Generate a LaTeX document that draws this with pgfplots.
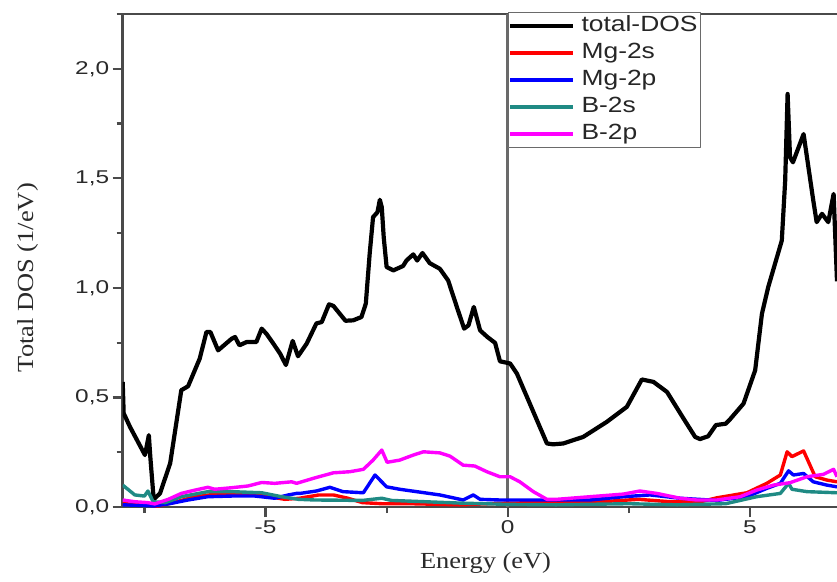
\documentclass[border=0pt]{standalone}
\usepackage{pgfplots}
\pgfplotsset{compat=1.18}
\usepackage{fontspec}
\setmainfont{Liberation Serif}
\newfontfamily\tickfont[FakeStretch=1.32]{Liberation Sans}
\newfontfamily\legfont[FakeStretch=1.2]{Liberation Sans}
\newfontfamily\labfont[FakeStretch=1.15]{Liberation Serif}
\definecolor{axgray}{HTML}{4A4A4A}
\definecolor{zgray}{HTML}{6A6A6A}
\definecolor{labgray}{HTML}{2A2A2A}
\definecolor{tealc}{HTML}{1F8A84}
\definecolor{magc}{RGB}{255,0,255}
\definecolor{redc}{RGB}{255,0,0}
\definecolor{bluec}{RGB}{0,0,255}
\begin{document}
\begin{tikzpicture}
\begin{axis}[name=ax, scale only axis, width=714.3pt, height=493pt,
  xmin=-7.95, xmax=6.80, ymin=0, ymax=2.25,
  axis x line=box, axis y line*=left,
  xtick pos=bottom, ytick pos=left,
  tick align=outside,
  xtick={-5,0,5}, minor xtick={-7.5,-2.5,2.5},
  ytick={0,0.5,1,1.5,2}, minor ytick={0.25,0.75,1.25,1.75,2.25},
  major tick length=10pt, minor tick length=6pt,
  axis line style={line width=2.8pt, color=axgray},
  every tick/.style={line width=2.2pt, color=axgray},
  every minor tick/.style={line width=2.2pt, color=axgray},
  every tick label/.append style={font=\tickfont\fontsize{18.5}{18.5}\selectfont, text=labgray},
  /pgf/number format/assume math mode=true,
  yticklabel style={/pgf/number format/fixed, /pgf/number format/fixed zerofill, /pgf/number format/precision=1, /pgf/number format/use comma},
  ylabel={Total DOS (1/eV)}, xlabel={Energy (eV)},
  every axis y label/.style={at={(rel axis cs:0,0.465)}, xshift=-95pt, rotate=90, anchor=center, font=\labfont\fontsize{23}{23}\selectfont, text=labgray},
  every axis x label/.style={at={(rel axis cs:0.508,0)}, yshift=-56pt, anchor=center, font=\labfont\fontsize{23}{23}\selectfont, text=labgray},
  legend cell align=left,
  legend image code/.code={\draw[#1] (0pt,0pt) -- (63pt,0pt);},
  legend style={at={(axis cs:0,2.25)}, anchor=north west, yshift=2pt, draw=zgray, line width=1.4pt, fill=white, inner sep=0pt, font=\legfont\fontsize{22}{22}\selectfont, text=black!85, nodes={text height=15.5pt, text depth=5.5pt, inner sep=3pt}, column sep=3pt},
  line join=round,
]
\addplot[forget plot, color=zgray, line width=3pt] coordinates {(0,0) (0,2.25)};
\addplot[black, line width=4.2pt] coordinates {
(-7.95,0.571) (-7.93,0.428) (-7.80,0.366) (-7.49,0.237) (-7.41,0.328) (-7.38,0.229)
(-7.31,0.035) (-7.18,0.062) (-6.97,0.199) (-6.74,0.533) (-6.60,0.551) (-6.36,0.677)
(-6.22,0.799) (-6.14,0.799) (-5.98,0.715) (-5.70,0.768) (-5.63,0.776) (-5.54,0.738)
(-5.39,0.753) (-5.19,0.753) (-5.08,0.814) (-4.98,0.790) (-4.84,0.746) (-4.70,0.700)
(-4.58,0.648) (-4.44,0.758) (-4.33,0.688) (-4.15,0.746) (-3.95,0.838) (-3.84,0.844)
(-3.69,0.925) (-3.60,0.918) (-3.35,0.850) (-3.19,0.852) (-3.02,0.867) (-2.93,0.928)
(-2.85,1.156) (-2.78,1.323) (-2.69,1.345) (-2.64,1.402) (-2.60,1.368) (-2.56,1.231)
(-2.50,1.095) (-2.36,1.080) (-2.16,1.100) (-2.09,1.125) (-1.95,1.153) (-1.87,1.125)
(-1.76,1.159) (-1.61,1.113) (-1.40,1.087) (-1.23,1.034) (-1.05,0.913) (-0.90,0.814)
(-0.81,0.829) (-0.70,0.913) (-0.57,0.806) (-0.42,0.776) (-0.26,0.749) (-0.16,0.665)
(0.05,0.655) (0.19,0.609) (0.81,0.290) (0.94,0.286) (1.15,0.290) (1.56,0.320)
(2.05,0.389) (2.46,0.457) (2.77,0.582) (3.01,0.571) (3.29,0.525) (3.63,0.404)
(3.87,0.320) (3.97,0.310) (4.14,0.323) (4.30,0.374) (4.50,0.380) (4.59,0.400)
(4.87,0.472) (5.11,0.624) (5.25,0.882) (5.38,1.004) (5.66,1.216) (5.73,1.490)
(5.78,1.885) (5.83,1.596) (5.89,1.573) (6.11,1.702) (6.31,1.399) (6.38,1.300)
(6.49,1.338) (6.62,1.300) (6.73,1.429) (6.80,1.030)
};
\addlegendentry{total-DOS}
\addplot[redc, line width=3.4pt] coordinates {
(-7.95,0.015) (-7.40,0.010) (-7.25,0.003) (-6.90,0.020) (-6.50,0.045) (-6.00,0.060)
(-5.50,0.060) (-5.00,0.050) (-4.60,0.035) (-4.30,0.040) (-3.90,0.055) (-3.60,0.055)
(-3.30,0.040) (-3.00,0.020) (-2.60,0.015) (-2.00,0.015) (-1.00,0.010) (0.00,0.018)
(1.00,0.020) (2.00,0.025) (2.70,0.035) (3.30,0.025) (4.00,0.025) (4.32,0.042)
(4.94,0.065) (5.35,0.108) (5.63,0.146) (5.77,0.252) (5.87,0.230) (6.11,0.256)
(6.35,0.138) (6.59,0.123) (6.80,0.115)
};
\addlegendentry{Mg-2s}
\addplot[bluec, line width=3.4pt] coordinates {
(-7.95,0.010) (-7.29,0.005) (-7.01,0.014) (-6.60,0.032) (-6.19,0.047) (-5.70,0.050)
(-5.22,0.050) (-4.81,0.040) (-4.53,0.055) (-4.36,0.062) (-4.29,0.062) (-3.95,0.073)
(-3.67,0.090) (-3.40,0.070) (-2.98,0.065) (-2.74,0.146) (-2.50,0.092) (-2.23,0.081)
(-1.88,0.070) (-1.40,0.055) (-0.92,0.032) (-0.71,0.055) (-0.57,0.035) (-0.16,0.032)
(0.87,0.032) (1.70,0.032) (2.39,0.047) (2.94,0.055) (3.56,0.040) (4.32,0.030)
(4.94,0.047) (5.35,0.085) (5.63,0.108) (5.80,0.165) (5.90,0.146) (6.11,0.153)
(6.31,0.115) (6.59,0.100) (6.80,0.092)
};
\addlegendentry{Mg-2p}
\addplot[tealc, line width=3.4pt] coordinates {
(-7.95,0.100) (-7.70,0.055) (-7.50,0.050) (-7.43,0.073) (-7.32,0.024) (-7.07,0.020)
(-6.74,0.047) (-6.19,0.070) (-5.70,0.070) (-5.08,0.065) (-4.67,0.047) (-4.32,0.035)
(-3.98,0.032) (-3.00,0.030) (-2.60,0.040) (-2.40,0.030) (-1.00,0.018) (0.00,0.012)
(1.00,0.010) (2.50,0.015) (3.50,0.010) (4.50,0.015) (4.80,0.030) (5.14,0.047)
(5.63,0.062) (5.80,0.108) (5.87,0.081) (6.18,0.070) (6.80,0.065)
};
\addlegendentry{B-2s}
\addplot[magc, line width=3.4pt] coordinates {
(-7.95,0.032) (-7.70,0.024) (-7.43,0.020) (-7.29,0.014) (-7.01,0.035) (-6.74,0.062)
(-6.46,0.077) (-6.19,0.090) (-6.05,0.081) (-5.70,0.088) (-5.36,0.096) (-5.08,0.112)
(-4.81,0.108) (-4.46,0.115) (-4.36,0.108) (-3.98,0.133) (-3.60,0.156) (-3.26,0.161)
(-2.98,0.172) (-2.78,0.214) (-2.60,0.260) (-2.49,0.204) (-2.23,0.214) (-1.95,0.237)
(-1.74,0.252) (-1.40,0.247) (-1.19,0.232) (-0.92,0.191) (-0.68,0.187) (-0.43,0.161)
(-0.16,0.138) (0.05,0.138) (0.25,0.115) (0.53,0.070) (0.81,0.035) (1.01,0.035)
(1.70,0.047) (2.39,0.059) (2.73,0.073) (3.08,0.062) (3.56,0.040) (3.90,0.032)
(4.32,0.032) (4.80,0.047) (5.14,0.077) (5.49,0.100) (5.83,0.111) (6.18,0.138)
(6.52,0.149) (6.73,0.172) (6.80,0.138)
};
\addlegendentry{B-2p}
\end{axis}
\pgfresetboundingbox
\path ([xshift=-122.7pt, yshift=-74pt]ax.south west) rectangle ([yshift=14pt]ax.north east);
\end{tikzpicture}
\end{document}
